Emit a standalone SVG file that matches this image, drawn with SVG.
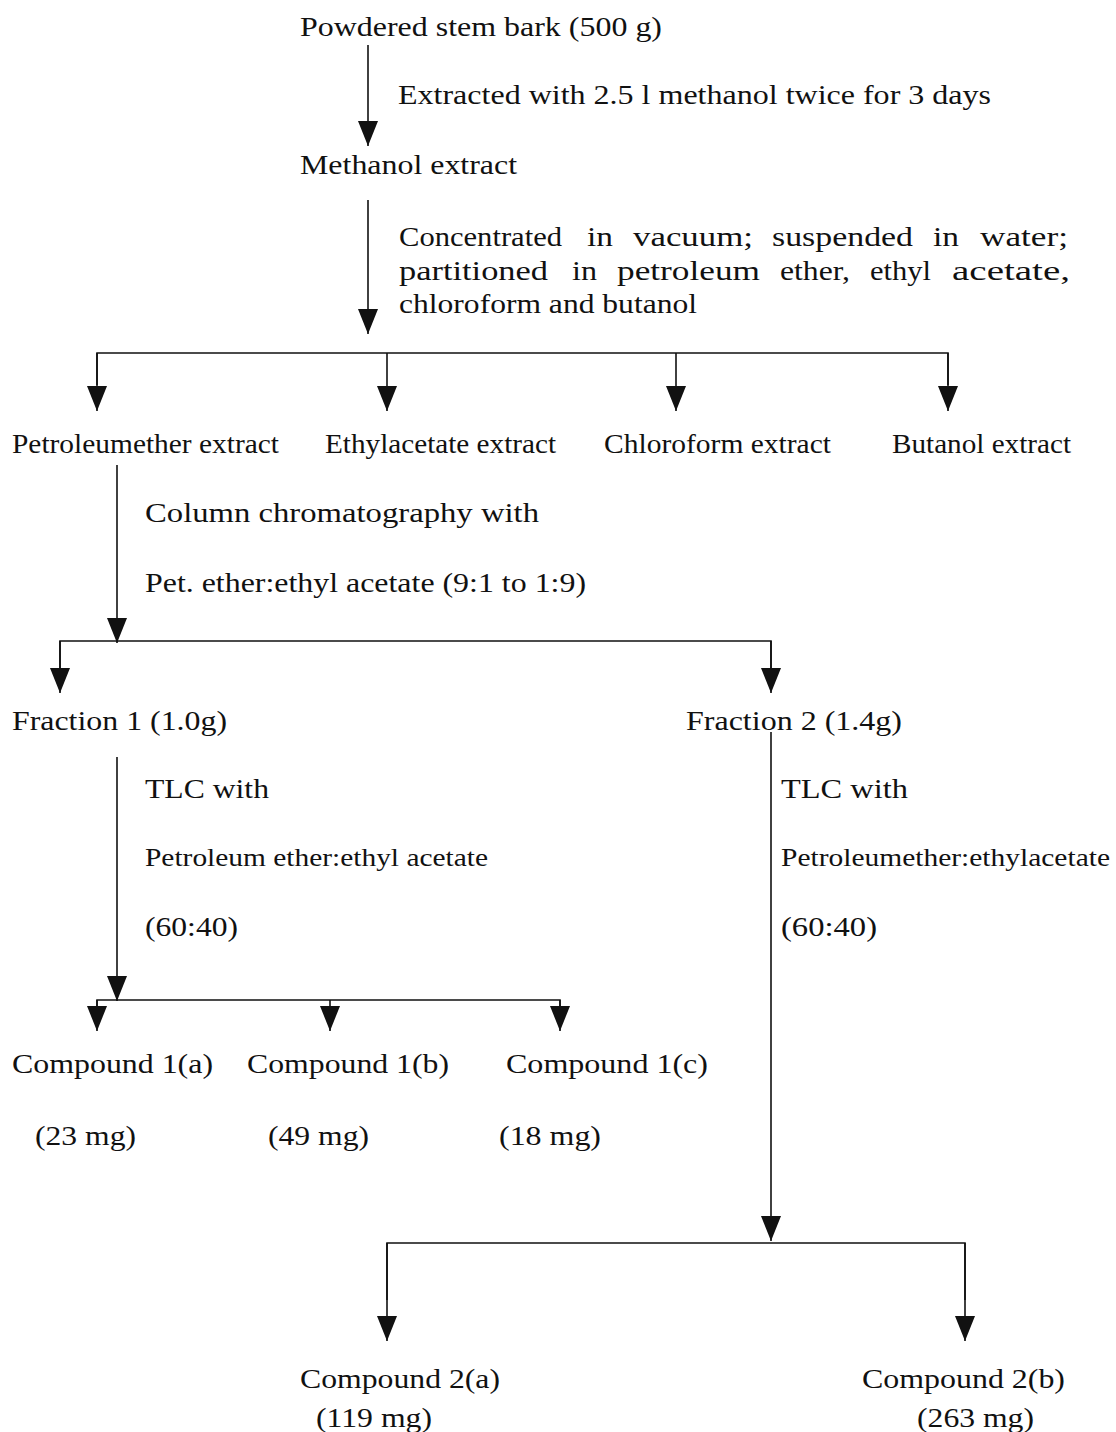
<svg xmlns="http://www.w3.org/2000/svg" width="1116" height="1432" viewBox="0 0 1116 1432">
<style>
text{font-family:"Liberation Serif","Times New Roman",serif;font-size:28px;fill:#111}
.s{font-size:25px}
.c{stroke:#111;stroke-width:1.6;fill:none}
.a{stroke:#111;stroke-width:1.6;fill:none;marker-end:url(#ah)}
</style>
<defs>
<marker id="ah" viewBox="0 -11 26 22" refX="25" refY="0" markerWidth="26" markerHeight="22" markerUnits="userSpaceOnUse" orient="auto">
<path d="M0,-10 L25,0 L0,10 z" fill="#111"/>
</marker>
</defs>
<rect width="1116" height="1432" fill="#fff"/>
<g id="connectors">
<line class="a" x1="368" y1="45" x2="368" y2="146"/>
<line class="a" x1="368" y1="200" x2="368" y2="334"/>
<polyline class="c" points="97,385 97,353 948,353 948,385"/>
<line class="a" x1="97" y1="353" x2="97" y2="411"/>
<line class="a" x1="387" y1="353" x2="387" y2="411"/>
<line class="a" x1="676" y1="353" x2="676" y2="411"/>
<line class="a" x1="948" y1="353" x2="948" y2="411"/>
<line class="a" x1="117" y1="465" x2="117" y2="643"/>
<polyline class="c" points="60,670 60,641 771,641 771,670"/>
<line class="a" x1="60" y1="641" x2="60" y2="693"/>
<line class="a" x1="771" y1="641" x2="771" y2="693"/>
<line class="a" x1="117" y1="757" x2="117" y2="1001"/>
<polyline class="c" points="97,1010 97,1000 560,1000 560,1010"/>
<line class="a" x1="97" y1="1000" x2="97" y2="1031"/>
<line class="a" x1="330" y1="1000" x2="330" y2="1031"/>
<line class="a" x1="560" y1="1000" x2="560" y2="1031"/>
<line class="a" x1="771" y1="732" x2="771" y2="1241"/>
<polyline class="c" points="387,1300 387,1243 965,1243 965,1300"/>
<line class="a" x1="387" y1="1243" x2="387" y2="1341"/>
<line class="a" x1="965" y1="1243" x2="965" y2="1341"/>
</g>
<g id="n-powder"><text x="300" y="36" textLength="362" lengthAdjust="spacingAndGlyphs">Powdered stem bark (500 g)</text></g>
<g id="l-extract"><text x="398" y="104" textLength="593" lengthAdjust="spacingAndGlyphs">Extracted with 2.5 l methanol twice for 3 days</text></g>
<g id="n-methanol"><text x="300" y="174" textLength="217" lengthAdjust="spacingAndGlyphs">Methanol extract</text></g>
<g id="l-partition">
<text x="399" y="246" textLength="163" lengthAdjust="spacingAndGlyphs">Concentrated</text>
<text x="587" y="246" textLength="26" lengthAdjust="spacingAndGlyphs">in</text>
<text x="633" y="246" textLength="120" lengthAdjust="spacingAndGlyphs">vacuum;</text>
<text x="772" y="246" textLength="141" lengthAdjust="spacingAndGlyphs">suspended</text>
<text x="933" y="246" textLength="26" lengthAdjust="spacingAndGlyphs">in</text>
<text x="980" y="246" textLength="88" lengthAdjust="spacingAndGlyphs">water;</text>
<text x="399" y="280" textLength="149" lengthAdjust="spacingAndGlyphs">partitioned</text>
<text x="572" y="280" textLength="25" lengthAdjust="spacingAndGlyphs">in</text>
<text x="617" y="280" textLength="143" lengthAdjust="spacingAndGlyphs">petroleum</text>
<text x="780" y="280" textLength="70" lengthAdjust="spacingAndGlyphs">ether,</text>
<text x="870" y="280" textLength="61" lengthAdjust="spacingAndGlyphs">ethyl</text>
<text x="952" y="280" textLength="118" lengthAdjust="spacingAndGlyphs">acetate,</text>
<text x="399" y="313" textLength="298" lengthAdjust="spacingAndGlyphs">chloroform and butanol</text>
</g>
<g id="n-pet"><text x="12" y="453" textLength="267" lengthAdjust="spacingAndGlyphs">Petroleumether extract</text></g>
<g id="n-ethyl"><text x="325" y="453" textLength="231" lengthAdjust="spacingAndGlyphs">Ethylacetate extract</text></g>
<g id="n-chloro"><text x="604" y="453" textLength="227" lengthAdjust="spacingAndGlyphs">Chloroform extract</text></g>
<g id="n-butanol"><text x="892" y="453" textLength="179" lengthAdjust="spacingAndGlyphs">Butanol extract</text></g>
<g id="l-column">
<text x="145" y="522" textLength="394" lengthAdjust="spacingAndGlyphs">Column chromatography  with</text>
<text x="145" y="592" textLength="441" lengthAdjust="spacingAndGlyphs">Pet. ether:ethyl acetate (9:1 to 1:9)</text>
</g>
<g id="n-frac1"><text x="12" y="730" textLength="215" lengthAdjust="spacingAndGlyphs">Fraction 1 (1.0g)</text></g>
<g id="n-frac2"><text x="686" y="730" textLength="216" lengthAdjust="spacingAndGlyphs">Fraction 2 (1.4g)</text></g>
<g id="l-tlc1">
<text x="145" y="798" textLength="124" lengthAdjust="spacingAndGlyphs">TLC with</text>
<text class="s" x="145" y="866" textLength="343" lengthAdjust="spacingAndGlyphs">Petroleum ether:ethyl acetate</text>
<text x="145" y="936" textLength="93" lengthAdjust="spacingAndGlyphs">(60:40)</text>
</g>
<g id="l-tlc2">
<text x="781" y="798" textLength="127" lengthAdjust="spacingAndGlyphs">TLC with</text>
<text class="s" x="781" y="866" textLength="329" lengthAdjust="spacingAndGlyphs">Petroleumether:ethylacetate</text>
<text x="781" y="936" textLength="96" lengthAdjust="spacingAndGlyphs">(60:40)</text>
</g>
<g id="n-c1a"><text x="12" y="1073" textLength="201" lengthAdjust="spacingAndGlyphs">Compound 1(a)</text><text x="35" y="1145" textLength="101" lengthAdjust="spacingAndGlyphs">(23 mg)</text></g>
<g id="n-c1b"><text x="247" y="1073" textLength="202" lengthAdjust="spacingAndGlyphs">Compound 1(b)</text><text x="268" y="1145" textLength="101" lengthAdjust="spacingAndGlyphs">(49 mg)</text></g>
<g id="n-c1c"><text x="506" y="1073" textLength="202" lengthAdjust="spacingAndGlyphs">Compound 1(c)</text><text x="499" y="1145" textLength="102" lengthAdjust="spacingAndGlyphs">(18 mg)</text></g>
<g id="n-c2a"><text x="300" y="1388" textLength="200" lengthAdjust="spacingAndGlyphs">Compound 2(a)</text><text x="316" y="1427" textLength="116" lengthAdjust="spacingAndGlyphs">(119 mg)</text></g>
<g id="n-c2b"><text x="862" y="1388" textLength="203" lengthAdjust="spacingAndGlyphs">Compound 2(b)</text><text x="917" y="1427" textLength="117" lengthAdjust="spacingAndGlyphs">(263 mg)</text></g>
</svg>
